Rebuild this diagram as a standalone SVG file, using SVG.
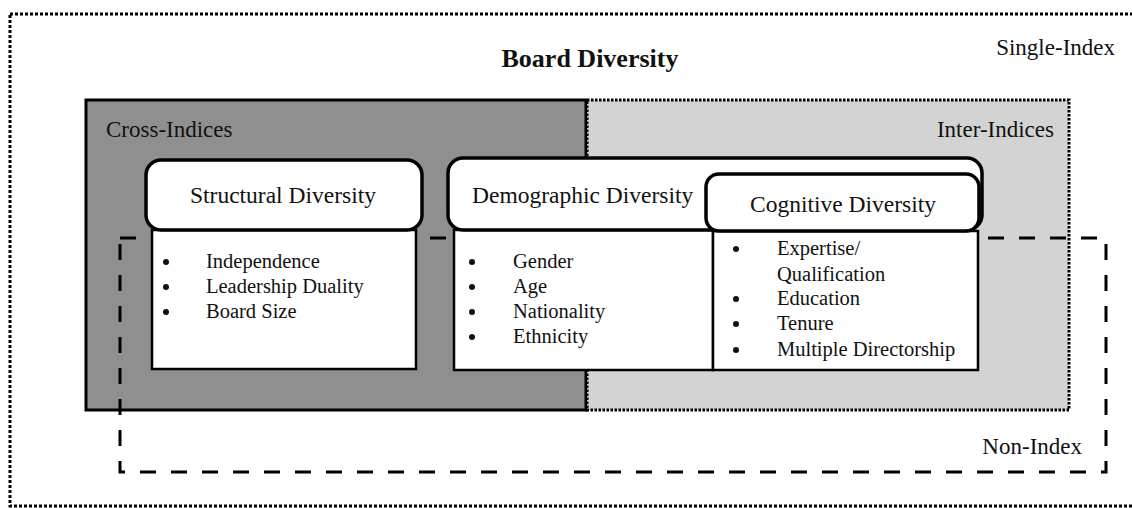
<svg xmlns="http://www.w3.org/2000/svg" width="1132" height="508" viewBox="0 0 1132 508">
<style>
text{font-family:"Liberation Serif","Times New Roman",serif;fill:#111}
.lbl{font-size:23px}
.hd{font-size:23.5px}
.it{font-size:20.5px}
.head{fill:#fff;stroke:#000;stroke-width:3.5}
.body{fill:#fff;stroke:#000;stroke-width:2.5}
.dot{fill:#111}
</style>
<rect width="1132" height="508" fill="#fff"/>
<g id="single-index">
<rect x="10" y="14" width="1135" height="492" fill="none" stroke="#000" stroke-width="3" stroke-dasharray="3 2"/>
<text x="590" y="67" text-anchor="middle" style="font-size:26px;font-weight:bold">Board Diversity</text>
<text x="1115" y="55" text-anchor="end" class="lbl">Single-Index</text>
</g>
<g id="cross-indices">
<rect x="86" y="100" width="500" height="310" fill="#8f8f8f" stroke="#000" stroke-width="3"/>
<text x="106" y="137" class="lbl">Cross-Indices</text>
</g>
<g id="inter-indices">
<rect x="587" y="100" width="482" height="310" fill="#d3d3d3" stroke="#000" stroke-width="3" stroke-dasharray="2.5 1.5"/>
<text x="1054" y="137" text-anchor="end" class="lbl">Inter-Indices</text>
</g>
<g id="non-index">
<rect x="120" y="238" width="986" height="234" fill="none" stroke="#000" stroke-width="3" stroke-dasharray="16 15"/>
<text x="1082" y="454" text-anchor="end" class="lbl">Non-Index</text>
</g>
<g id="structural">
<rect class="body" x="152" y="230" width="264" height="139"/>
<rect class="head" x="146" y="160" width="276" height="70" rx="15"/>
<text x="283" y="203" text-anchor="middle" class="hd">Structural Diversity</text>
<g class="dot"><circle cx="166" cy="262" r="3"/><circle cx="166" cy="287" r="3"/><circle cx="166" cy="312" r="3"/></g>
<g class="it">
<text x="206" y="268">Independence</text>
<text x="206" y="293">Leadership Duality</text>
<text x="206" y="318">Board Size</text>
</g>
</g>
<g id="demographic">
<rect class="body" x="454" y="230" width="259" height="140"/>
<rect class="head" x="448" y="158" width="534" height="72" rx="15"/>
<text x="472" y="203" class="hd">Demographic Diversity</text>
<g class="dot"><circle cx="472" cy="262" r="3"/><circle cx="472" cy="287" r="3"/><circle cx="472" cy="312" r="3"/><circle cx="472" cy="337" r="3"/></g>
<g class="it">
<text x="513" y="268">Gender</text>
<text x="513" y="293">Age</text>
<text x="513" y="318">Nationality</text>
<text x="513" y="343">Ethnicity</text>
</g>
</g>
<g id="cognitive">
<rect class="body" x="713" y="231" width="265" height="139"/>
<rect class="head" x="706" y="174" width="273" height="57" rx="13"/>
<text x="843" y="212" text-anchor="middle" class="hd">Cognitive Diversity</text>
<g class="dot"><circle cx="736" cy="249" r="3"/><circle cx="736" cy="299" r="3"/><circle cx="736" cy="324" r="3"/><circle cx="736" cy="350" r="3"/></g>
<g class="it">
<text x="777" y="255">Expertise/</text>
<text x="777" y="281">Qualification</text>
<text x="777" y="305">Education</text>
<text x="777" y="330">Tenure</text>
<text x="777" y="356">Multiple Directorship</text>
</g>
</g>
<g id="connectors"/>
</svg>
